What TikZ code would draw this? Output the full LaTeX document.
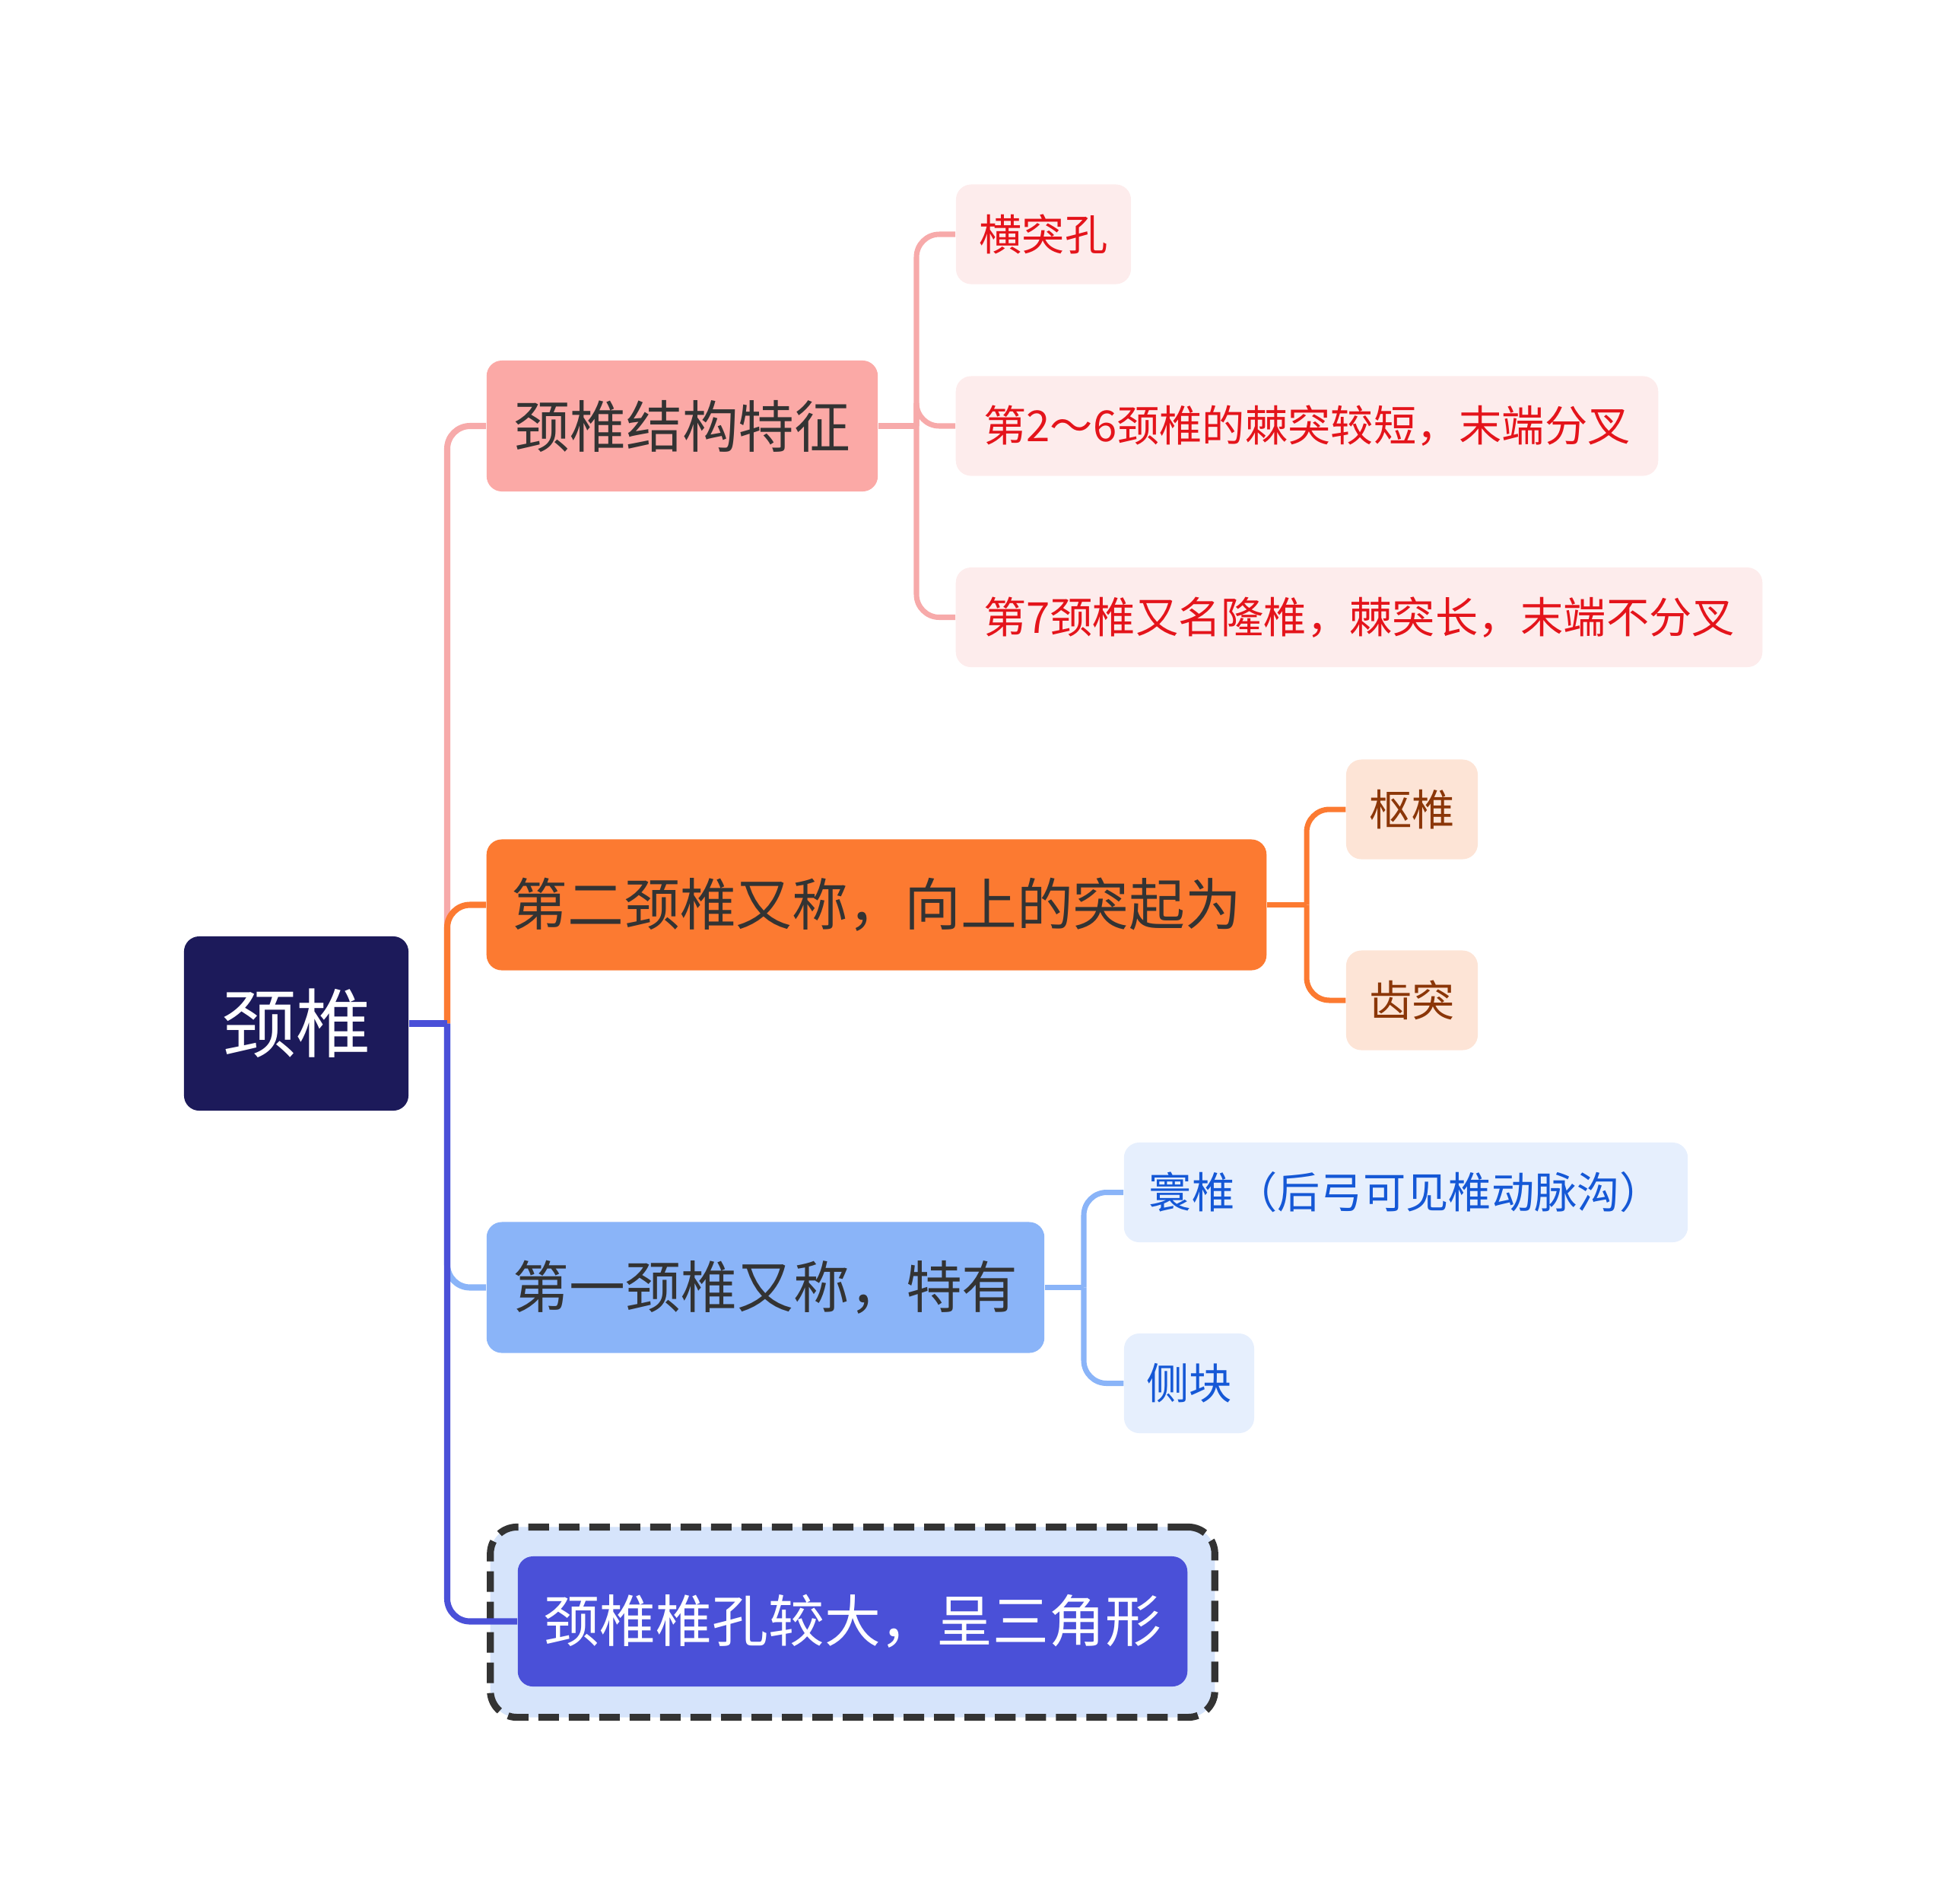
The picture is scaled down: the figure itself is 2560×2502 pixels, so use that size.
\documentclass[tikz,border=0pt]{standalone}
\usepackage{fontspec}
\setmainfont{Noto Sans CJK SC}
\usepackage{tikz}
\usetikzlibrary{positioning, calc}
\usepackage{xcolor}
\definecolor{rootnavy}{RGB}{28,26,90}
\definecolor{textgray}{RGB}{51,51,51}
\definecolor{rosefill}{RGB}{251,169,166}
\definecolor{roseleaf}{RGB}{253,236,236}
\definecolor{roseline}{RGB}{247,170,170}
\definecolor{rosetext}{RGB}{228,20,27}
\definecolor{amberfill}{RGB}{252,122,49}
\definecolor{amberleaf}{RGB}{253,228,214}
\definecolor{ambertext}{RGB}{139,54,8}
\definecolor{skyfill}{RGB}{138,180,248}
\definecolor{skyleaf}{RGB}{230,239,253}
\definecolor{skytext}{RGB}{21,88,214}
\definecolor{indigofill}{RGB}{74,80,216}
\definecolor{indigopale}{RGB}{214,228,251}

\begin{document}
\begin{tikzpicture}[x=0.01cm, y=-0.01cm,
  box/.style={rounded corners=0.2cm, inner sep=0pt, align=center},
  mainbox/.style={box, minimum height=1.72cm, font=\fontsize{21}{25}\selectfont, text=textgray},
  leafbox/.style={box, minimum height=1.31cm, font=\fontsize{16}{19}\selectfont},
  link/.style={line width=2.3pt, rounded corners=0.3cm},
  sublink/.style={line width=2pt, rounded corners=0.3cm}]
  \useasboundingbox (0,0) rectangle (2560,2502);

  % root
  \node[box, fill=rootnavy, text=white, minimum width=2.95cm, minimum height=2.29cm,
        font=\fontsize{28}{32}\selectfont] (neck) at (389.5,1345.5) {颈椎};

  % main branches
  \node[mainbox, fill=rosefill, minimum width=5.14cm] (struct) at (897,560) {颈椎结构特征};
  \node[mainbox, fill=amberfill, minimum width=10.25cm] (axis) at (1152.5,1189.5) {第二颈椎又称，向上的突起为};
  \node[mainbox, fill=skyfill, minimum width=7.33cm] (atlas) at (1006.5,1692.5) {第一颈椎又称，特有};
  \node[rounded corners=0.35cm, fill=indigopale, draw=textgray, line width=2.6pt,
        dash pattern=on 0.27cm off 0.13cm, minimum width=9.52cm, minimum height=2.50cm] (frame) at (1121,2132.5) {};
  \node[box, fill=indigofill, text=white, minimum width=8.80cm, minimum height=1.71cm,
        font=\fontsize{21}{25}\selectfont] (foramen) at (1121,2131.5) {颈椎椎孔较大，呈三角形};

  % leaves
  \node[leafbox, fill=roseleaf, text=rosetext, minimum width=2.30cm] (hole) at (1372,308) {横突孔};
  \node[leafbox, fill=roseleaf, text=rosetext, minimum width=9.23cm] (short) at (1718.5,560) {第2～6颈椎的棘突较短，末端分叉};
  \node[leafbox, fill=roseleaf, text=rosetext, minimum width=10.60cm] (long) at (1787,811.5) {第7颈椎又名隆椎，棘突长，末端不分叉};
  \node[leafbox, fill=amberleaf, text=ambertext, minimum width=1.73cm] (pivot) at (1856.5,1064) {枢椎};
  \node[leafbox, fill=amberleaf, text=ambertext, minimum width=1.73cm] (dens) at (1856.5,1315) {齿突};
  \node[leafbox, fill=skyleaf, text=skytext, minimum width=7.41cm] (ring) at (1848.5,1567.5) {寰椎（后弓可见椎动脉沟）};
  \node[leafbox, fill=skyleaf, text=skytext, minimum width=1.71cm] (mass) at (1563.5,1818.5) {侧块};

  % connectors
  \coordinate (trunk) at (588,1345.5);
  \coordinate (j1) at (1205,560);
  \coordinate (j2) at (1718,1189.5);
  \coordinate (j3) at (1425,1692.5);

  \draw[link, draw=roseline] (trunk) |- (struct.west);
  \draw[link, draw=amberfill] (trunk) |- (axis.west);
  \draw[link, draw=skyfill] (trunk) |- (atlas.west);
  \draw[link, draw=indigofill] (trunk) |- (foramen.west);
  \draw[link, draw=indigofill] (neck.east) -- (trunk);

  \draw[sublink, draw=roseline] (struct.east) -- (j1);
  \foreach \leaf in {hole,short,long}
    \draw[sublink, draw=roseline] (j1) |- (\leaf.west);
  \draw[sublink, draw=amberfill] (axis.east) -- (j2);
  \foreach \leaf in {pivot,dens}
    \draw[sublink, draw=amberfill] (j2) |- (\leaf.west);
  \draw[sublink, draw=skyfill] (atlas.east) -- (j3);
  \foreach \leaf in {ring,mass}
    \draw[sublink, draw=skyfill] (j3) |- (\leaf.west);
\end{tikzpicture}
\end{document}
